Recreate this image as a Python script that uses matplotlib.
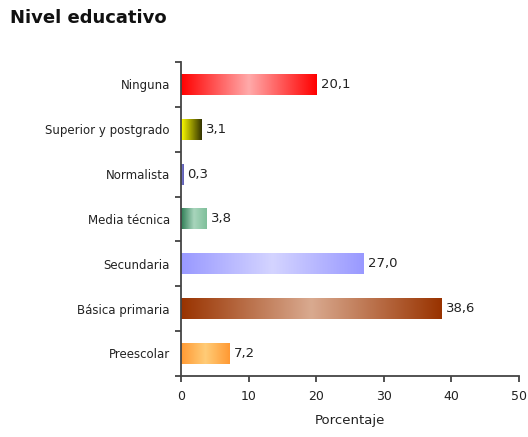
import numpy as np
import matplotlib.pyplot as plt
from matplotlib.colors import LinearSegmentedColormap

categorias = ["Preescolar", "Básica primaria", "Secundaria", "Media técnica",
              "Normalista", "Superior y postgrado", "Ninguna"]
porcentajes = [7.2, 38.6, 27.0, 3.8, 0.3, 3.1, 20.1]

# colores del degradado: borde, centro, borde
degradados = [
    ["#FF9933", "#FFCC77", "#FF9933"],
    ["#993300", "#D9AA90", "#993300"],
    ["#9999FF", "#D4D4FF", "#9999FF"],
    ["#2E7D55", "#A8D5BC", "#7FBF9A"],
    ["#5555AA", "#7777CC", "#5555AA"],
    ["#FFFF00", "#999900", "#333300"],
    ["#FF0000", "#FFAAAA", "#FF0000"],
]

fig = plt.figure(figsize=(5.28, 4.37), dpi=100)
ax = fig.add_axes([0.343, 0.14, 0.64, 0.718])

y = np.arange(len(categorias))
barras = ax.barh(y, porcentajes, height=0.47, color="none", edgecolor="none")

grad = np.linspace(0, 1, 256).reshape(1, -1)
for barra, cols in zip(barras, degradados):
    x0, y0 = barra.get_x(), barra.get_y()
    w, h = barra.get_width(), barra.get_height()
    cmap = LinearSegmentedColormap.from_list("g", cols)
    im = ax.imshow(grad, cmap=cmap, aspect="auto", extent=[x0, x0 + w, y0, y0 + h],
                   interpolation="bilinear", zorder=2)
    im.set_clip_path(barra)

for yi, v in zip(y, porcentajes):
    ax.annotate(f"{v:.1f}".replace(".", ","), (v, yi), xytext=(3, 0),
                textcoords="offset points", va="center", ha="left",
                fontsize=9.5, color="#222222")

ax.set_xlim(0, 50)
ax.set_ylim(-0.5, len(categorias) - 0.5)
ax.set_xticks([0, 10, 20, 30, 40, 50])
ax.set_yticks(y)
ax.set_yticklabels(categorias)
ax.set_yticks(np.arange(-0.5, len(categorias), 1), minor=True)
ax.tick_params(axis="y", which="major", length=0, pad=8, labelsize=8.5, colors="#222222")
ax.tick_params(axis="y", which="minor", length=4, width=1.2, color="#333333")
ax.tick_params(axis="x", length=4, width=1.2, color="#333333", labelsize=9,
               labelcolor="#222222", pad=6)
for s in ["top", "right"]:
    ax.spines[s].set_visible(False)
for s in ["left", "bottom"]:
    ax.spines[s].set_color("#444444")
    ax.spines[s].set_linewidth(1.3)
ax.set_xlabel("Porcentaje", fontsize=9.5, color="#222222", labelpad=8)

fig.text(0.018, 0.959, "Nivel educativo", fontsize=13, fontweight="bold",
         ha="left", va="center", color="#111111")

fig.savefig("out.png", dpi=100)
